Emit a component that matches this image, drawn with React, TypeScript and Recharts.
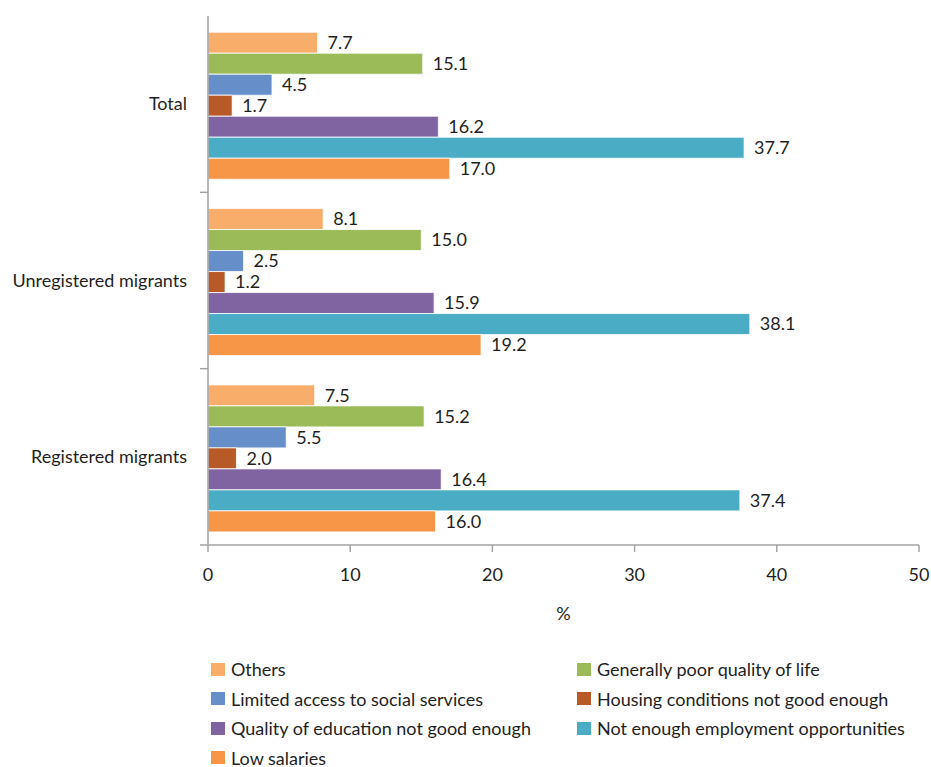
import React from "react";
import { BarChart, Bar, XAxis, YAxis, Legend, LabelList } from "recharts";

const groups = ["Total", "Unregistered migrants", "Registered migrants"];

const seriesNames = [
  "Others",
  "Generally poor quality of life",
  "Limited access to social services",
  "Housing conditions not good enough",
  "Quality of education not good enough",
  "Not enough employment opportunities",
  "Low salaries",
];

const seriesColors = ["#F9AD6A", "#9BBB59", "#668FC9", "#B85A28", "#8064A2", "#4BACC6", "#F79646"];

// one array per group, same order as seriesNames
const totalValues = [7.7, 15.1, 4.5, 1.7, 16.2, 37.7, 17.0];
const unregisteredValues = [8.1, 15.0, 2.5, 1.2, 15.9, 38.1, 19.2];
const registeredValues = [7.5, 15.2, 5.5, 2.0, 16.4, 37.4, 16.0];

const xTicks = [0, 10, 20, 30, 40, 50];

const groupValues = [totalValues, unregisteredValues, registeredValues];
const data = groups.map((g, gi) => {
  const row: Record<string, string | number> = { group: g };
  seriesNames.forEach((s, si) => {
    row[`s${si}`] = groupValues[gi][si];
  });
  return row;
});

const FONT = "Lato, 'Open Sans', sans-serif";
const FS = 18;
const TEXT = "#1f1f1f";
const AXIS = "#a3a3a3";

const W = 931;
const H = 767;
const M = { top: 16, right: 12, bottom: 0, left: 8 };
const LEGEND_H = 111;
const XAXIS_H = 111;
const BAND = (H - M.top - M.bottom - LEGEND_H - XAXIS_H) / groups.length;

const GroupTick = (props: any) => {
  const { x, y, payload } = props;
  return (
    <g>
      <text x={x} y={y} dy={6} textAnchor="end" fill={TEXT} fontSize={FS} fontFamily={FONT}>
        {payload.value}
      </text>
      <line x1={x + 13} x2={x + 21} y1={y + BAND / 2} y2={y + BAND / 2} stroke={AXIS} strokeWidth={1.5} />
    </g>
  );
};

const LegendGrid = () => (
  <div
    style={{
      display: "grid",
      gridTemplateColumns: "366px 350px",
      gridAutoRows: "18px",
      rowGap: 11.5,
      paddingLeft: 211,
      paddingTop: 4,
      fontFamily: FONT,
      fontSize: FS,
      lineHeight: "18px",
      color: TEXT,
    }}
  >
    {seriesNames.map((name, i) => (
      <div key={name} style={{ display: "flex", alignItems: "center", whiteSpace: "nowrap" }}>
        <span style={{ width: 14, height: 13, background: seriesColors[i], marginRight: 6, flex: "none" }} />
        {name}
      </div>
    ))}
  </div>
);

export default function App() {
  return (
    <div style={{ position: "absolute", left: 0, top: 0, fontFamily: FONT, background: "#fff" }}>
      <BarChart
        width={W}
        height={H}
        data={data}
        layout="vertical"
        margin={M}
        barCategoryGap="9.2%"
        barGap={0}
      >
        <XAxis
          type="number"
          domain={[0, 50]}
          ticks={xTicks}
          height={XAXIS_H}
          stroke={AXIS}
          strokeWidth={1.5}
          tickSize={7}
          tickMargin={16}
          tick={{ fill: TEXT, fontSize: FS, fontFamily: FONT }}
          label={{ value: "%", position: "insideTop", offset: 62, fill: TEXT, fontSize: FS, fontFamily: FONT }}
        />
        <YAxis
          type="category"
          dataKey="group"
          width={200}
          stroke={AXIS}
          strokeWidth={1.5}
          tickLine={false}
          tickSize={0}
          tickMargin={21}
          tick={<GroupTick />}
          interval={0}
        />
        <Legend
          verticalAlign="bottom"
          height={LEGEND_H}
          wrapperStyle={{ left: 0, top: H - LEGEND_H, width: W }}
          content={<LegendGrid />}
        />
        {seriesNames.map((name, i) => (
          <Bar
            key={name}
            dataKey={`s${i}`}
            name={name}
            fill={seriesColors[i]}
            stroke="#ffffff"
            strokeWidth={0.8}
            isAnimationActive={false}
          >
            <LabelList
              dataKey={`s${i}`}
              position="right"
              offset={10}
              fill={TEXT}
              fontSize={FS}
              fontFamily={FONT}
              formatter={(v: any) => Number(v).toFixed(1)}
            />
          </Bar>
        ))}
      </BarChart>
    </div>
  );
}
